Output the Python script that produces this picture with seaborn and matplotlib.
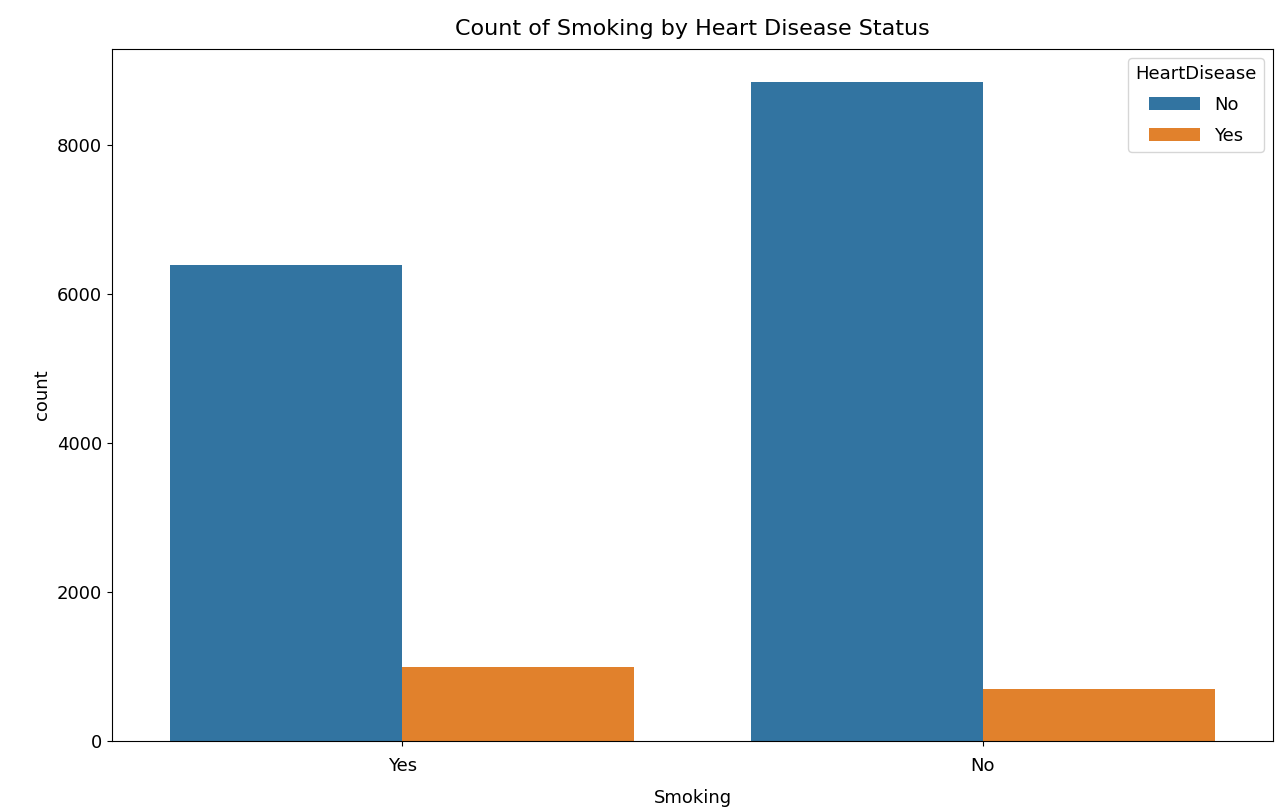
import pandas as pd
import seaborn as sns
import matplotlib.pyplot as plt

# Values
smoking = ['Yes', 'Yes', 'No', 'No']
heart_disease = ['No', 'Yes', 'No', 'Yes']
counts = [6392, 992, 8844, 697]

df = pd.DataFrame({'Smoking': smoking, 'HeartDisease': heart_disease, 'count': counts})

fig = plt.figure(figsize=(12.87, 8.1), dpi=100)
ax = fig.add_axes([112 / 1287, 69 / 810, 1161 / 1287, 692 / 810])
sns.barplot(data=df, x='Smoking', y='count', hue='HeartDisease',
            order=['Yes', 'No'], hue_order=['No', 'Yes'], ax=ax)

ax.set_title('Count of Smoking by Heart Disease Status', fontsize=16, pad=10)
ax.set_xlabel('Smoking', fontsize=13, labelpad=10)
ax.set_ylabel('count', fontsize=13)
ax.tick_params(labelsize=13)
ax.tick_params(axis='x', pad=8)
ax.legend(title='HeartDisease', loc='upper right', fontsize=13, title_fontsize=13,
          handlelength=2.8, labelspacing=0.7)

fig.savefig('out.png', dpi=100)
